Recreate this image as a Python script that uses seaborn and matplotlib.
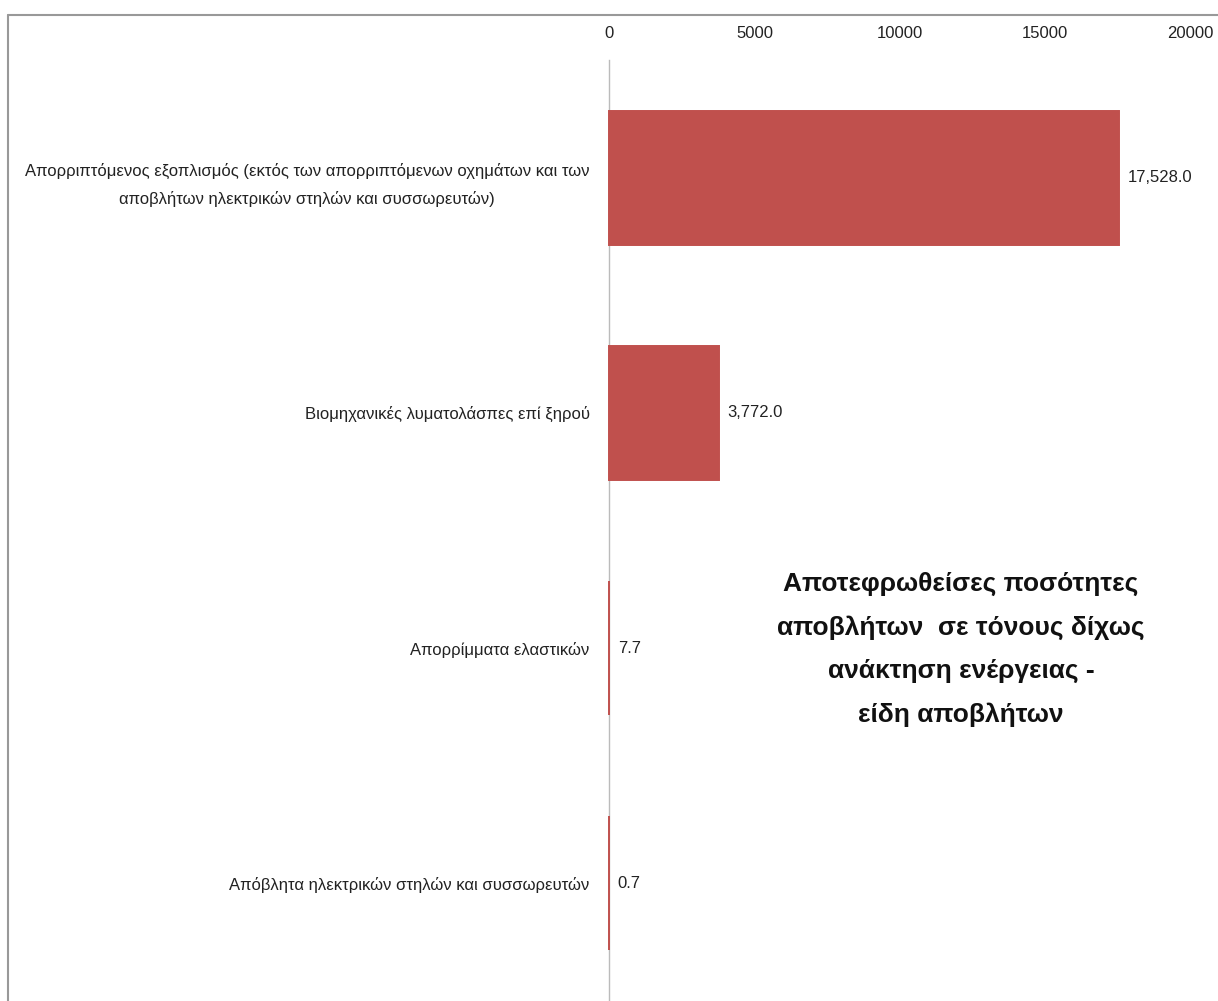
import matplotlib
matplotlib.use("Agg")
import matplotlib.pyplot as plt
import seaborn as sns
import pandas as pd
from matplotlib.lines import Line2D

categories = [
    "Απορριπτόμενος εξοπλισμός (εκτός των απορριπτόμενων οχημάτων και των\nαποβλήτων ηλεκτρικών στηλών και συσσωρευτών)",
    "Βιομηχανικές λυματολάσπες επί ξηρού",
    "Απορρίμματα ελαστικών",
    "Απόβλητα ηλεκτρικών στηλών και συσσωρευτών",
]
values = [17528.0, 3772.0, 7.7, 0.7]
xticks = [0, 5000, 10000, 15000, 20000]
title = "Αποτεφρωθείσες ποσότητες\nαποβλήτων  σε τόνους δίχως\nανάκτηση ενέργειας -\nείδη αποβλήτων"

sns.set_theme(style="white")
plt.rcParams['font.family'] = ['Liberation Sans Narrow', 'Liberation Sans', 'DejaVu Sans']

df = pd.DataFrame({"cat": categories, "val": values})

fig = plt.figure(figsize=(12.18, 10.01), dpi=100)
ax = fig.add_axes([0.5, 0.0, 0.4775, 0.94])
sns.barplot(data=df, y="cat", x="val", color="#C0504D", orient="h", width=0.57,
            saturation=1, edgecolor="#C0504D", linewidth=1.4, ax=ax)
for p in ax.patches:
    p.set_zorder(5)
    p.set_clip_on(False)

ax.set_xlim(0, 20000)
ax.set_ylim(len(categories) - 0.5, -0.5)
ax.xaxis.tick_top()
ax.set_xticks(xticks)
ax.set_xticklabels([str(t) for t in xticks], fontsize=12, color="#222222")
ax.tick_params(axis="x", length=0, pad=14)
ax.tick_params(axis="y", length=0, pad=14)
for lbl in ax.get_yticklabels():
    lbl.set_fontsize(12)
    lbl.set_color("#222222")
    lbl.set_multialignment("center")
    lbl.set_linespacing(1.9)
ax.set_xlabel("")
ax.set_ylabel("")
for s in ["top", "right", "bottom"]:
    ax.spines[s].set_visible(False)
ax.spines["left"].set_color("#bbbbbb")
ax.spines["left"].set_linewidth(1.0)
ax.spines["left"].set_zorder(1)

for i, v in enumerate(values):
    ax.text(v + 300, i, f"{v:,.1f}", va="center", ha="left", fontsize=12, color="#222222")

ax.text(0.605, 0.374, title, transform=ax.transAxes, ha="center", va="center",
        fontsize=19, fontweight="bold", color="#111111", linespacing=2.0)

fig.add_artist(Line2D([0.0066, 0.0066], [0, 0.985], color="#999999", lw=1.5, transform=fig.transFigure))
fig.add_artist(Line2D([0.0066, 1.0], [0.985, 0.985], color="#999999", lw=1.5, transform=fig.transFigure))

fig.savefig("out.png", dpi=100)
